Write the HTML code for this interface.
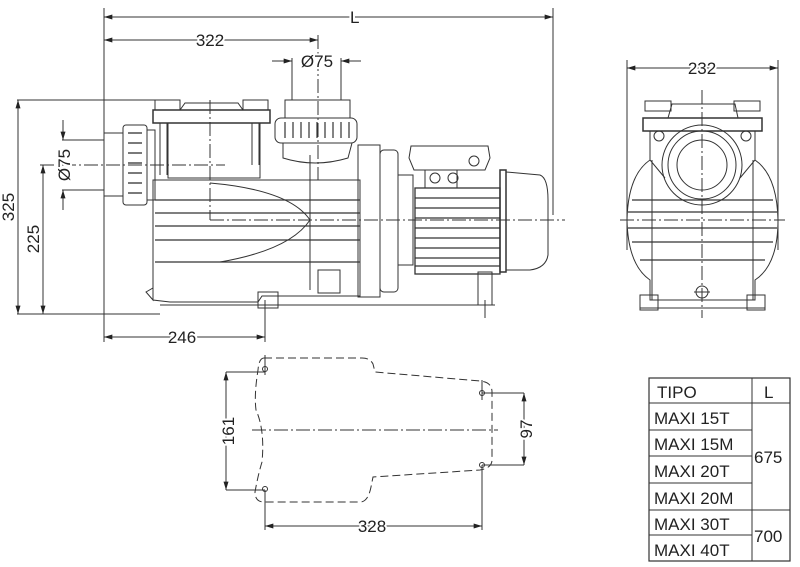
<!DOCTYPE html>
<html><head><style>
html,body{margin:0;padding:0;background:#fff;}
svg{display:block;}
text{font-family:"Liberation Sans",Arial,sans-serif;fill:#222;paint-order:stroke;stroke:#fff;stroke-width:4px;}
</style></head><body>
<svg width="800" height="567" viewBox="0 0 800 567" xmlns="http://www.w3.org/2000/svg">
<defs>
<marker id="a" viewBox="0 0 10 6" refX="10" refY="3" markerWidth="9" markerHeight="5" orient="auto-start-reverse"><path d="M0,0 L10,3 L0,6z" fill="#222"/></marker>
</defs>
<g stroke="#333" stroke-width="1" fill="none">
<line x1="104" y1="8" x2="104" y2="342"/>
<line x1="553" y1="8" x2="553" y2="215"/>
<line x1="104" y1="17" x2="553" y2="17" marker-start="url(#a)" marker-end="url(#a)"/>
<line x1="104" y1="40" x2="318" y2="40" marker-start="url(#a)" marker-end="url(#a)"/>
<line x1="318" y1="35" x2="318" y2="180" stroke-dasharray="14,3,2,3"/>
<line x1="292" y1="58" x2="292" y2="100"/><line x1="341" y1="58" x2="341" y2="100"/>
<line x1="272" y1="61" x2="292" y2="61" marker-end="url(#a)"/><line x1="361" y1="61" x2="341" y2="61" marker-end="url(#a)"/>
<line x1="17" y1="100" x2="155" y2="100"/>
<line x1="17" y1="314" x2="160" y2="314"/>
<line x1="18" y1="100" x2="18" y2="314" marker-start="url(#a)" marker-end="url(#a)"/>
<line x1="40" y1="165" x2="225" y2="165" stroke-dasharray="14,3,2,3"/>
<line x1="43" y1="165" x2="43" y2="314" marker-start="url(#a)" marker-end="url(#a)"/>
<line x1="62" y1="140" x2="104" y2="140"/><line x1="62" y1="190" x2="104" y2="190"/>
<line x1="63" y1="120" x2="63" y2="140" marker-end="url(#a)"/><line x1="63" y1="210" x2="63" y2="190" marker-end="url(#a)"/>
<line x1="265" y1="300" x2="265" y2="342"/>
<line x1="104" y1="337" x2="265" y2="337" marker-start="url(#a)" marker-end="url(#a)"/>
<line x1="210" y1="220" x2="565" y2="220" stroke-dasharray="14,3,2,3"/>
<line x1="210" y1="100" x2="210" y2="220" stroke-dasharray="14,3,2,3"/>
<rect x="104" y="133" width="19" height="63"/>
<rect x="123" y="125" width="24" height="80" rx="3"/>
<g stroke-width="1.3"><line x1="128" y1="133" x2="142" y2="133"/><line x1="128" y1="143" x2="142" y2="143"/><line x1="128" y1="153" x2="142" y2="153"/><line x1="128" y1="163" x2="142" y2="163"/><line x1="128" y1="173" x2="142" y2="173"/><line x1="128" y1="183" x2="142" y2="183"/><line x1="128" y1="193" x2="142" y2="193"/></g>
<rect x="147" y="130" width="8" height="70"/>
<rect x="153" y="110" width="117" height="13" stroke-width="1.5"/>
<rect x="155" y="100" width="25" height="10"/><rect x="243" y="100" width="25" height="10"/>
<path d="M180 110 L185 103 L238 103 L243 110"/>
<line x1="160" y1="123" x2="160" y2="175"/><line x1="167" y1="123" x2="167" y2="175"/>
<line x1="252" y1="123" x2="252" y2="165"/><line x1="259" y1="123" x2="259" y2="165"/>
<path d="M168 123 L168 178 L260 178 L260 123"/>
<path d="M153 180 L153 300 L170 302 L258 302 L262 296 L360 296 L360 180 Z"/>
<g stroke-width="1.3"><line x1="155" y1="200" x2="360" y2="200"/><line x1="155" y1="213" x2="360" y2="213"/><line x1="155" y1="226" x2="360" y2="226"/><line x1="155" y1="240" x2="360" y2="240"/><line x1="155" y1="262" x2="360" y2="262"/></g>
<path d="M210 183 Q290 190 310 220 Q290 250 220 262"/>
<line x1="310" y1="155" x2="310" y2="290"/>
<rect x="318" y="270" width="22" height="23"/>
<rect x="285" y="100" width="65" height="18"/>
<rect x="275" y="118" width="82" height="25" rx="6"/>
<g stroke-width="1.2"><path d="M285 122v16M293 122v16M301 122v16M309 122v16M317 122v16M325 122v16M333 122v16M341 122v16M349 122v16"/></g>
<path d="M283 143 L283 158 Q315 168 348 158 L352 143"/>
<rect x="358" y="145" width="22" height="152"/>
<rect x="380" y="150" width="18" height="142" rx="4"/>
<rect x="398" y="175" width="15" height="90"/>
<path d="M409 158 L411 146 L488 146 L490 158 L485 170 L414 170 Z"/>
<circle cx="474" cy="161" r="5"/>
<rect x="425" y="170" width="32" height="18"/><circle cx="435" cy="178" r="5"/><circle cx="453" cy="178" r="5"/>
<rect x="415" y="188" width="85" height="86" stroke-width="1.3"/>
<g stroke-width="1.2"><path d="M415 198h85M415 208h85M415 218h85M415 228h85M415 238h85M415 248h85M415 258h85M415 266h85"/></g>
<rect x="500" y="170" width="6" height="102" stroke-width="1.5"/>
<path d="M506 172 L540 175 Q548 178 548 200 L548 255 Q546 268 530 270 L506 270"/>
<rect x="258" y="292" width="20" height="16"/>
<rect x="478" y="272" width="14" height="33"/>
<line x1="160" y1="305" x2="495" y2="305"/>
<line x1="265" y1="300" x2="265" y2="315"/><line x1="485" y1="300" x2="485" y2="318"/>
<path d="M146 292 L153 288 L153 300 Z"/>

<line x1="627" y1="60" x2="627" y2="250"/><line x1="778" y1="60" x2="778" y2="250"/>
<line x1="627" y1="68" x2="778" y2="68" marker-start="url(#a)" marker-end="url(#a)"/>
<line x1="702" y1="90" x2="702" y2="318" stroke-dasharray="14,3,2,3"/>
<line x1="620" y1="220" x2="785" y2="220" stroke-dasharray="14,3,2,3"/>
<rect x="643" y="118" width="119" height="13" stroke-width="1.5"/>
<rect x="645" y="101" width="26" height="10"/><rect x="734" y="101" width="26" height="10"/>
<path d="M668 118 L672 104 L735 104 L738 118"/>
<path d="M650 131 L650 160 L665 178 M755 131 L755 160 L740 178"/>
<circle cx="659" cy="136" r="5"/><circle cx="746" cy="136" r="5"/>
<circle cx="702" cy="165" r="40"/><circle cx="702" cy="165" r="34"/><circle cx="702" cy="165" r="25"/>
<path d="M650 160 Q628 175 627 220 Q628 265 650 280 L650 300 L755 300 L755 280 Q778 265 778 220 Q777 175 755 160"/>
<g stroke-width="1.2"><path d="M632 200h141M628 212h149M628 228h149M632 242h141M640 260h125"/></g>
<line x1="652" y1="160" x2="652" y2="300"/><line x1="753" y1="160" x2="753" y2="300"/>
<circle cx="702" cy="292" r="6"/><line x1="694" y1="292" x2="710" y2="292"/>
<rect x="640" y="295" width="18" height="15"/><rect x="747" y="295" width="18" height="15"/>
<line x1="640" y1="308" x2="765" y2="308"/>

<path d="M264 358 L362 358 Q370 358 373 364 L375 372 L480 381 Q492 382 492 392 L492 460 Q492 468 480 470 L373 477 L371 487 Q368 502 360 502 L264 502 Q255 502 255 492 Q258 475 262 462 Q265 430 256 410 Q254 395 258 370 Q259 358 264 358 Z" stroke-dasharray="8,4"/>
<line x1="252" y1="430" x2="498" y2="430" stroke-dasharray="14,3,2,3"/>
<circle cx="265" cy="369" r="2.5"/><circle cx="265" cy="489" r="2.5"/><circle cx="482" cy="393" r="2.5"/><circle cx="482" cy="465" r="2.5"/>
<line x1="265" y1="355" x2="265" y2="375"/><line x1="482" y1="380" x2="482" y2="400"/>
<line x1="226" y1="372" x2="265" y2="372"/><line x1="226" y1="490" x2="265" y2="490"/>
<line x1="226" y1="372" x2="226" y2="490" marker-start="url(#a)" marker-end="url(#a)"/>
<line x1="482" y1="393" x2="524" y2="393"/><line x1="482" y1="465" x2="524" y2="465"/>
<line x1="524" y1="393" x2="524" y2="465" marker-start="url(#a)" marker-end="url(#a)"/>
<line x1="265" y1="490" x2="265" y2="530"/><line x1="482" y1="465" x2="482" y2="530"/>
<line x1="265" y1="526" x2="482" y2="526" marker-start="url(#a)" marker-end="url(#a)"/>

<rect x="649" y="378" width="141" height="183" stroke-width="1.2"/>
<line x1="752" y1="378" x2="752" y2="561"/>
<line x1="649" y1="403" x2="790" y2="403"/>
<line x1="649" y1="430" x2="752" y2="430"/><line x1="649" y1="456" x2="752" y2="456"/><line x1="649" y1="483" x2="752" y2="483"/>
<line x1="649" y1="510" x2="790" y2="510"/><line x1="649" y1="535" x2="752" y2="535"/>
</g>
<g font-size="17">
<text x="350" y="23">L</text>
<text x="210" y="46" text-anchor="middle">322</text>
<text x="317" y="67" text-anchor="middle">Ø75</text>
<text x="702" y="74" text-anchor="middle">232</text>
<text x="182" y="343" text-anchor="middle">246</text>
<text x="372" y="532" text-anchor="middle">328</text>
<text transform="translate(14,207) rotate(-90)" text-anchor="middle">325</text>
<text transform="translate(39,239) rotate(-90)" text-anchor="middle">225</text>
<text transform="translate(70,165) rotate(-90)" text-anchor="middle">Ø75</text>
<text transform="translate(234,431) rotate(-90)" text-anchor="middle">161</text>
<text transform="translate(532,429) rotate(-90)" text-anchor="middle">97</text>
</g>
<g font-size="17">
<text x="657" y="398">TIPO</text><text x="764" y="398">L</text>
<text x="654" y="424">MAXI 15T</text>
<text x="654" y="450">MAXI 15M</text>
<text x="654" y="477">MAXI 20T</text>
<text x="654" y="504">MAXI 20M</text>
<text x="654" y="530">MAXI 30T</text>
<text x="654" y="556">MAXI 40T</text>
<text x="754" y="463">675</text>
<text x="754" y="542">700</text>
</g>
</svg>
</body></html>
